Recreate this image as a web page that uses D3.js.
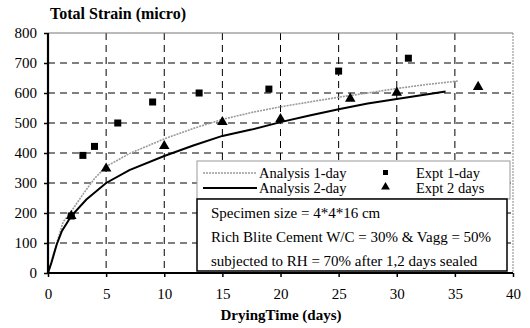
<!DOCTYPE html>
<html>
<head>
<meta charset="utf-8">
<script src="https://cdn.jsdelivr.net/npm/d3@7"></script>
<style>
  html, body { margin: 0; padding: 0; background: #fff; }
  svg { display: block; }
  text { font-family: "Liberation Serif", "Times New Roman", serif; fill: #000; }
</style>
</head>
<body>
<svg id="chart" width="530" height="328"></svg>
<script>
// Drying time (days) and total strain (micro) for each series
const analysis1Days   = [0, 0.6, 1.3, 2, 3, 4, 5, 7, 10, 12.5, 15, 17.5, 20, 22.5, 25, 27.5, 30, 32.5, 35.3];
const analysis1Strain = [0, 80, 170, 205, 262, 315, 355, 398, 447, 482, 512, 535, 554, 570, 586, 600, 615, 628, 640];

const analysis2Days   = [0, 0.3, 0.75, 1.2, 2, 3.3, 5, 7, 10, 12.5, 15, 17.5, 20, 22.5, 25, 27.5, 30, 34.2];
const analysis2Strain = [0, 35, 95, 140, 190, 245, 300, 343, 390, 425, 457, 478, 503, 525, 546, 565, 580, 605];

const expt1Days   = [2, 3, 4, 6, 9, 13, 19, 25, 31];
const expt1Strain = [190, 392, 422, 500, 570, 600, 613, 673, 716];

const expt2Days   = [2, 5, 10, 15, 20, 26, 30, 37];
const expt2Strain = [187, 345, 420, 500, 510, 578, 598, 617];

const xTicks = [0, 5, 10, 15, 20, 25, 30, 35, 40];
const yTicks = [0, 100, 200, 300, 400, 500, 600, 700, 800];

const legendLabels = ["Analysis 1-day", "Analysis 2-day", "Expt 1-day", "Expt 2 days"];
const noteLines = [
  "Specimen size = 4*4*16 cm",
  "Rich Blite Cement W/C = 30% & Vagg = 50%",
  "subjected to RH = 70% after 1,2 days sealed"
];

const svg = d3.select("#chart");
const plotLeft = 48, plotRight = 513, plotTop = 33, plotBottom = 273;

const x = d3.scaleLinear().domain([0, 40]).range([plotLeft, plotRight]);
const y = d3.scaleLinear().domain([0, 800]).range([plotBottom, plotTop]);

// Dashed grid
const grid = svg.append("g");
grid.selectAll("line.h").data(yTicks.filter(v => v > 0 && v < 800)).join("line")
  .attr("class", "h")
  .attr("x1", plotLeft).attr("x2", plotRight)
  .attr("y1", d => y(d)).attr("y2", d => y(d))
  .attr("stroke", "#000").attr("stroke-width", 1).attr("stroke-dasharray", "7,5");
grid.selectAll("line.v").data(xTicks.filter(v => v > 0 && v < 40)).join("line")
  .attr("class", "v")
  .attr("x1", d => x(d)).attr("x2", d => x(d))
  .attr("y1", plotTop).attr("y2", plotBottom)
  .attr("stroke", "#000").attr("stroke-width", 1).attr("stroke-dasharray", "7,5");

// Frame: top and right edges
svg.append("line").attr("x1", plotLeft).attr("x2", plotRight).attr("y1", plotTop).attr("y2", plotTop)
  .attr("stroke", "#777").attr("stroke-width", 1);
svg.append("line").attr("x1", plotRight).attr("x2", plotRight).attr("y1", plotTop).attr("y2", plotBottom)
  .attr("stroke", "#888").attr("stroke-width", 1).attr("stroke-dasharray", "2,1");

// Analysis curves
const line = (xs, ys) => d3.line().x((d, i) => x(xs[i])).y((d, i) => y(ys[i]))(xs);
svg.append("path").attr("d", line(analysis1Days, analysis1Strain))
  .attr("fill", "none").attr("stroke", "#9a9a9a").attr("stroke-width", 1.6)
  .attr("stroke-dasharray", "2,1");
svg.append("path").attr("d", line(analysis2Days, analysis2Strain))
  .attr("fill", "none").attr("stroke", "#000").attr("stroke-width", 2);

// Experimental points
const sq = 7;
svg.append("g").selectAll("rect").data(expt1Days).join("rect")
  .attr("x", (d, i) => x(d) - sq / 2).attr("y", (d, i) => y(expt1Strain[i]) - sq / 2)
  .attr("width", sq).attr("height", sq).attr("fill", "#000");
const tri = d3.symbol().type(d3.symbolTriangle).size(48);
svg.append("g").selectAll("path").data(expt2Days).join("path")
  .attr("d", tri)
  .attr("transform", (d, i) => `translate(${x(d)},${y(expt2Strain[i]) - 1})`)
  .attr("fill", "#000");

// Legend panel
const lg = svg.append("g");
lg.append("rect").attr("x", 197).attr("y", 161).attr("width", 313).attr("height", 38)
  .attr("fill", "#fff").attr("stroke", "#999").attr("stroke-width", 1);
lg.append("line").attr("x1", 203).attr("x2", 257).attr("y1", 173).attr("y2", 173)
  .attr("stroke", "#9a9a9a").attr("stroke-width", 1.6).attr("stroke-dasharray", "2,1");
lg.append("line").attr("x1", 203).attr("x2", 257).attr("y1", 188).attr("y2", 188)
  .attr("stroke", "#000").attr("stroke-width", 2);
const legendRowY = [177.5, 192.5];
lg.append("text").attr("x", 259).attr("y", legendRowY[0]).attr("font-size", 14.5).text(legendLabels[0]);
lg.append("text").attr("x", 259).attr("y", legendRowY[1]).attr("font-size", 14.5).text(legendLabels[1]);
lg.append("rect").attr("x", 383).attr("y", 170).attr("width", 5).attr("height", 5).attr("fill", "#000");
lg.append("path").attr("d", d3.symbol().type(d3.symbolTriangle).size(34))
  .attr("transform", "translate(385.5,187)").attr("fill", "#000");
lg.append("text").attr("x", 416).attr("y", legendRowY[0]).attr("font-size", 14.5).text(legendLabels[2]);
lg.append("text").attr("x", 416).attr("y", legendRowY[1]).attr("font-size", 14.5).text(legendLabels[3]);

// Specimen note
const nb = svg.append("g");
nb.append("rect").attr("x", 197).attr("y", 199).attr("width", 310).attr("height", 72)
  .attr("fill", "#fff").attr("stroke", "#000").attr("stroke-width", 1.5);
nb.selectAll("text").data(noteLines).join("text")
  .attr("x", 211).attr("y", (d, i) => 218 + i * 24)
  .attr("font-size", 15).text(d => d);

// Axes
const yAxis = svg.append("g").attr("transform", `translate(${plotLeft},0)`)
  .call(d3.axisLeft(y).tickValues(yTicks).tickSize(4).tickPadding(7));
const xAxis = svg.append("g").attr("transform", `translate(0,${plotBottom})`)
  .call(d3.axisBottom(x).tickValues(xTicks).tickSize(4).tickPadding(11));
[yAxis, xAxis].forEach(g => {
  g.select(".domain").attr("stroke", "#000").attr("stroke-width", 2.2);
  g.selectAll(".tick line").attr("stroke", "#000").attr("stroke-width", 1.5);
  g.selectAll(".tick text").attr("font-family", "Liberation Serif, serif").attr("font-size", 15).attr("fill", "#000");
});
yAxis.select(".domain").attr("d", `M0,${plotTop}V${plotBottom}`);
xAxis.select(".domain").attr("d", `M${plotLeft},0H${plotRight}`);

// Titles
svg.append("text").attr("x", 50).attr("y", 19).attr("font-size", 16).attr("font-weight", "bold")
  .text("Total Strain (micro)");
svg.append("text").attr("x", 281).attr("y", 320).attr("text-anchor", "middle")
  .attr("font-size", 15).attr("font-weight", "bold").text("DryingTime (days)");
</script>
</body>
</html>
